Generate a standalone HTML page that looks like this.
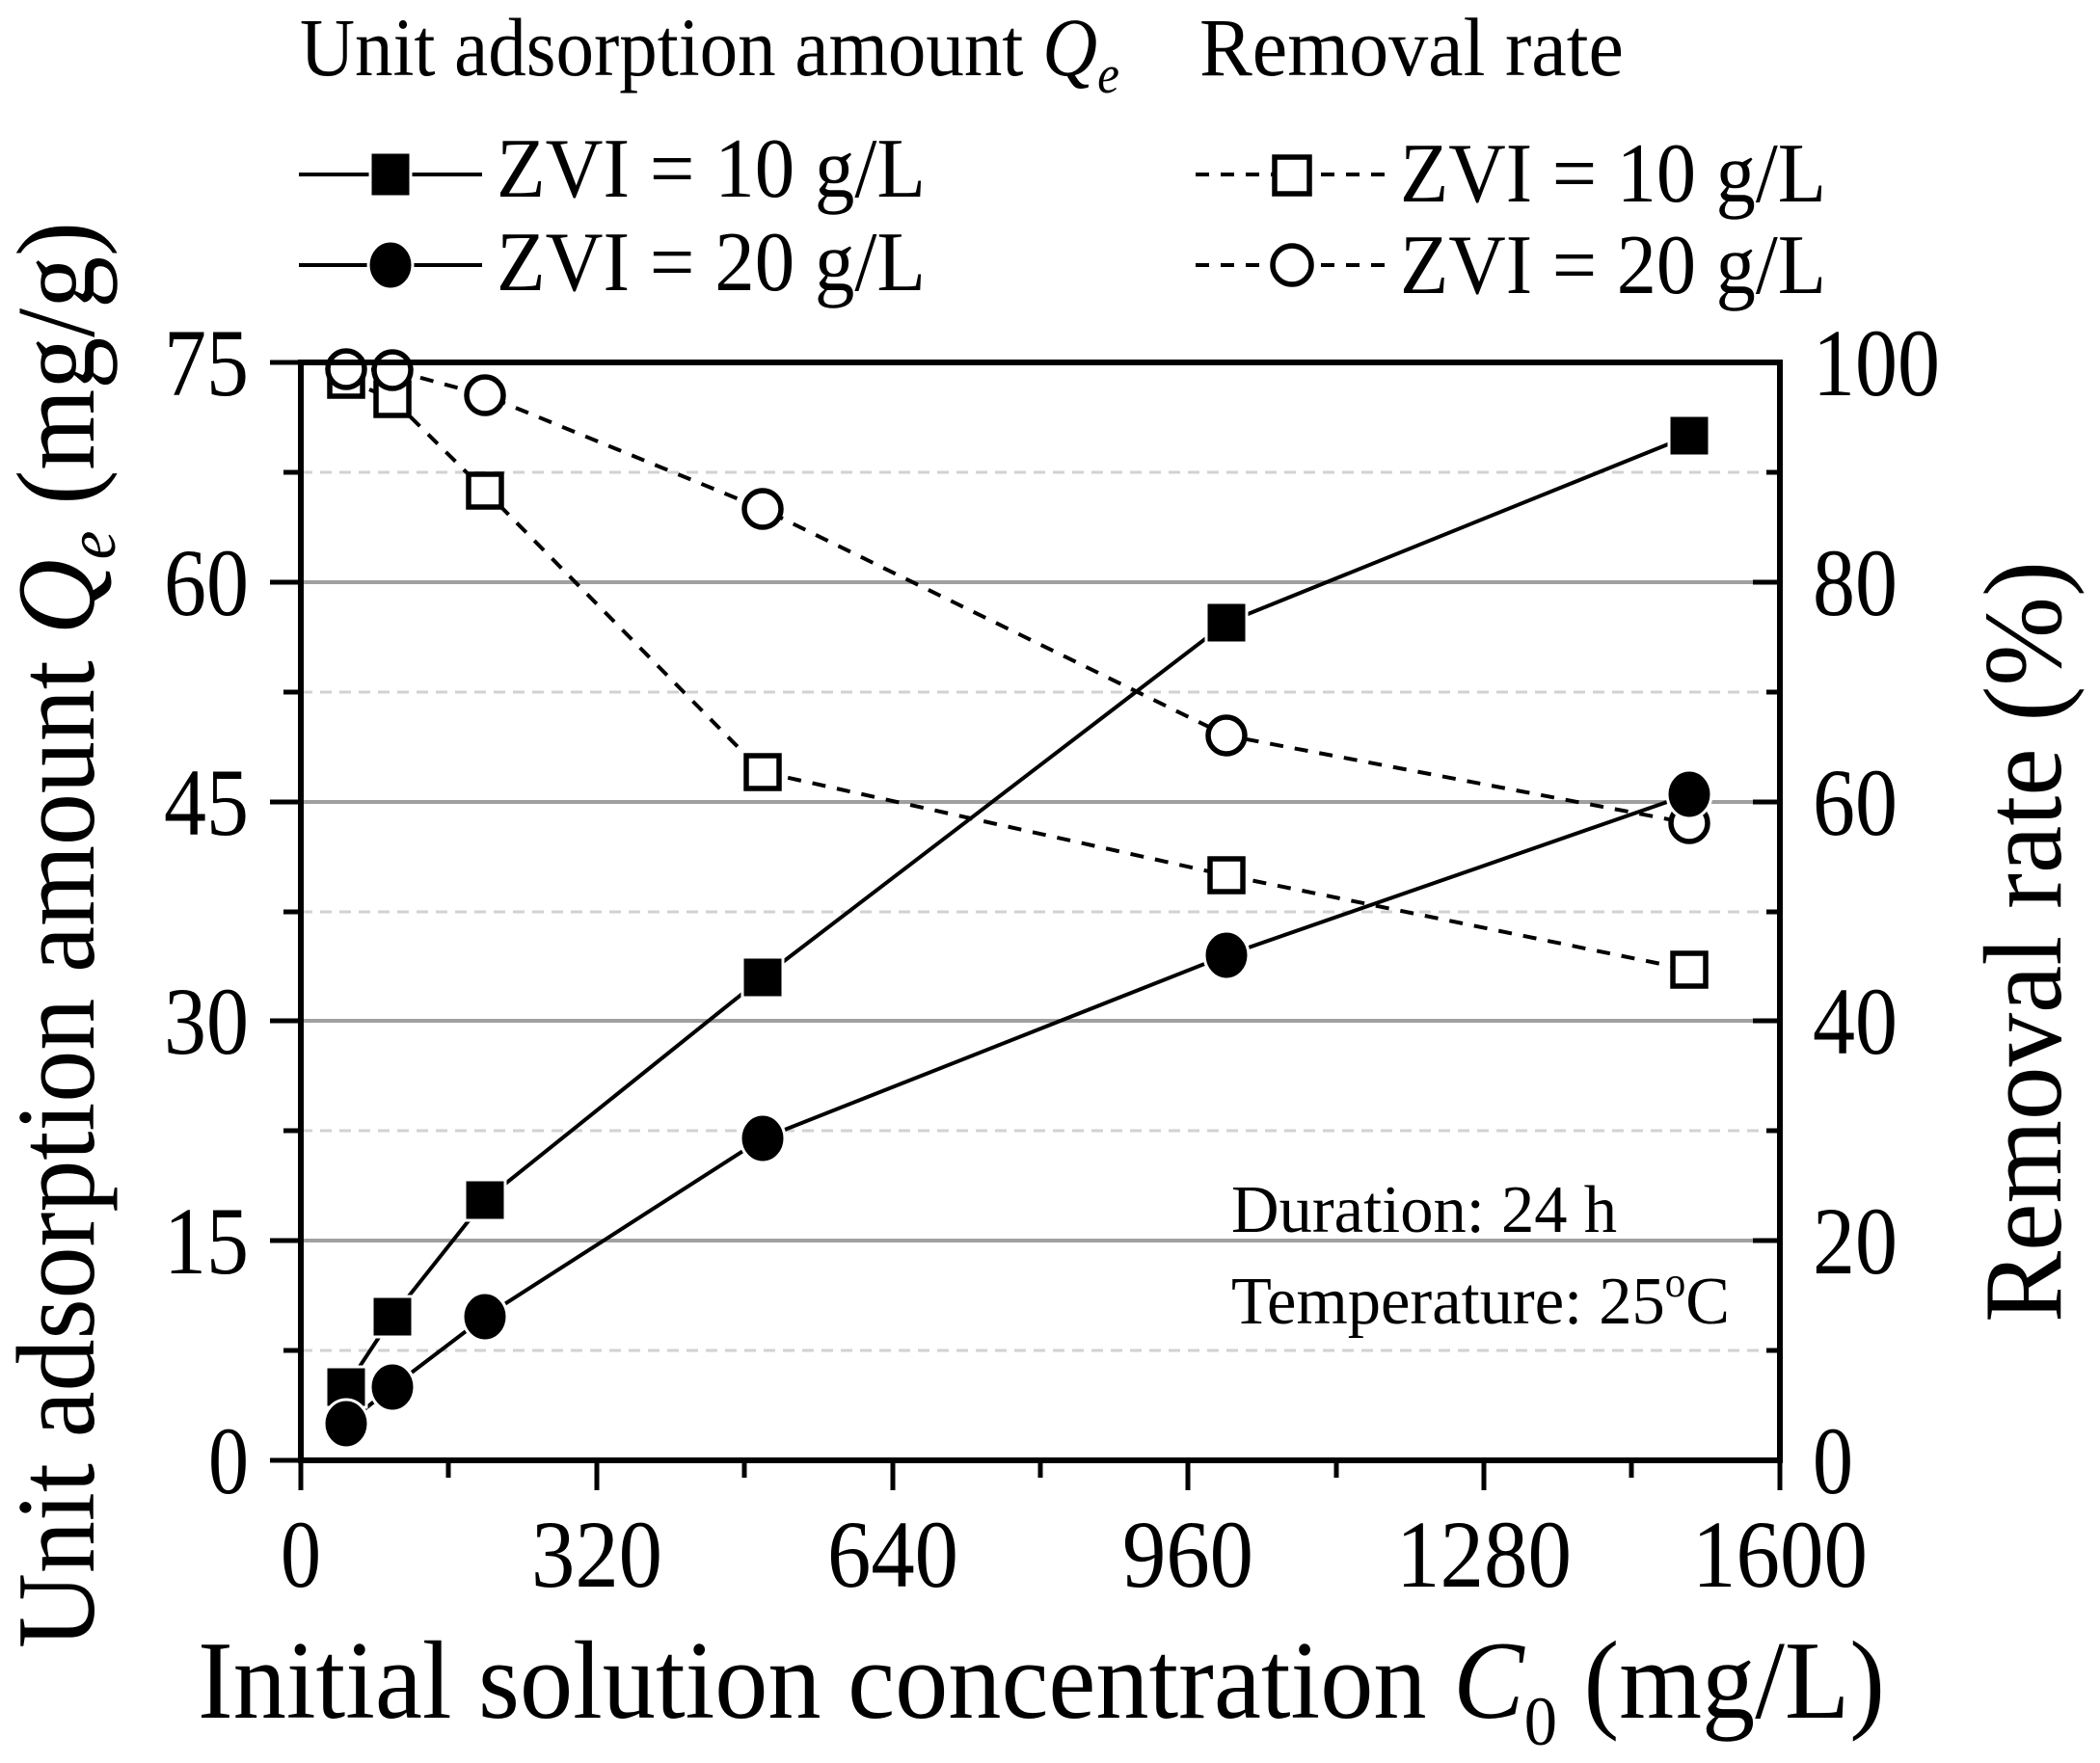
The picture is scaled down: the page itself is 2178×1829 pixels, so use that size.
<!DOCTYPE html>
<html><head><meta charset="utf-8"><style>
html,body{margin:0;padding:0;background:#fff;}
svg{display:block;}
text{font-family:"Liberation Serif",serif;fill:#000;}
</style></head><body>
<svg width="2178" height="1829" viewBox="0 0 2178 1829" xmlns="http://www.w3.org/2000/svg">
<rect width="2178" height="1829" fill="#fff"/>
<g stroke="#a0a0a0" stroke-width="4">
<line x1="312" y1="1287" x2="1846" y2="1287"/>
<line x1="312" y1="1059" x2="1846" y2="1059"/>
<line x1="312" y1="832" x2="1846" y2="832"/>
<line x1="312" y1="604" x2="1846" y2="604"/>
</g>
<g stroke="#d2d2d2" stroke-width="3" stroke-dasharray="12 8">
<line x1="312" y1="1401" x2="1846" y2="1401"/>
<line x1="312" y1="1173" x2="1846" y2="1173"/>
<line x1="312" y1="946" x2="1846" y2="946"/>
<line x1="312" y1="718" x2="1846" y2="718"/>
<line x1="312" y1="490" x2="1846" y2="490"/>
</g>
<g fill="none" stroke="#000" stroke-width="4">
<polyline points="359,1439 407,1366 503,1245 791,1014 1272,646 1752,452"/>
<polyline points="359,1477 407,1439 503,1366 791,1181 1272,991 1752,824"/>
<polyline stroke-dasharray="14 12" points="359,394 407,414 503,509 791,801 1272,908 1752,1006"/>
<polyline stroke-dasharray="14 12" points="359,383 407,384 503,410 791,528 1272,763 1752,854"/>
</g>
<g fill="#fff" stroke="#000" stroke-width="5.5">
<rect x="342" y="377" width="34" height="34"/>
<rect x="390" y="397" width="34" height="34"/>
<rect x="486" y="492" width="34" height="34"/>
<rect x="774" y="784" width="34" height="34"/>
<rect x="1255" y="891" width="34" height="34"/>
<rect x="1735" y="989" width="34" height="34"/>
<circle cx="359" cy="383" r="19"/>
<circle cx="407" cy="384" r="19"/>
<circle cx="503" cy="410" r="19"/>
<circle cx="791" cy="528" r="19"/>
<circle cx="1272" cy="763" r="19"/>
<circle cx="1752" cy="854" r="19"/>
</g>
<g fill="#000" stroke="#fff" stroke-width="3">
<rect x="338" y="1418" width="42" height="42"/>
<rect x="386" y="1345" width="42" height="42"/>
<rect x="482" y="1224" width="42" height="42"/>
<rect x="770" y="993" width="42" height="42"/>
<rect x="1251" y="625" width="42" height="42"/>
<rect x="1731" y="431" width="42" height="42"/>
<ellipse cx="359" cy="1477" rx="23" ry="25"/>
<ellipse cx="407" cy="1439" rx="23" ry="25"/>
<ellipse cx="503" cy="1366" rx="23" ry="25"/>
<ellipse cx="791" cy="1181" rx="23" ry="25"/>
<ellipse cx="1272" cy="991" rx="23" ry="25"/>
<ellipse cx="1752" cy="824" rx="23" ry="25"/>
</g>
<rect x="312" y="376" width="1534" height="1139" fill="none" stroke="#000" stroke-width="6"/>
<g stroke="#000" stroke-width="5">
<line x1="280" y1="1515" x2="312" y2="1515"/><line x1="280" y1="1287" x2="312" y2="1287"/><line x1="280" y1="1059" x2="312" y2="1059"/><line x1="280" y1="832" x2="312" y2="832"/><line x1="280" y1="604" x2="312" y2="604"/><line x1="280" y1="376" x2="312" y2="376"/>
<line x1="294" y1="1401" x2="312" y2="1401"/><line x1="294" y1="1173" x2="312" y2="1173"/><line x1="294" y1="946" x2="312" y2="946"/><line x1="294" y1="718" x2="312" y2="718"/><line x1="294" y1="490" x2="312" y2="490"/>
<line x1="1818" y1="1287" x2="1846" y2="1287"/><line x1="1818" y1="1059" x2="1846" y2="1059"/><line x1="1818" y1="832" x2="1846" y2="832"/><line x1="1818" y1="604" x2="1846" y2="604"/>
<line x1="1832" y1="1401" x2="1846" y2="1401"/><line x1="1832" y1="1173" x2="1846" y2="1173"/><line x1="1832" y1="946" x2="1846" y2="946"/><line x1="1832" y1="718" x2="1846" y2="718"/><line x1="1832" y1="490" x2="1846" y2="490"/>
<line x1="312" y1="1515" x2="312" y2="1546"/><line x1="619" y1="1515" x2="619" y2="1546"/><line x1="926" y1="1515" x2="926" y2="1546"/><line x1="1232" y1="1515" x2="1232" y2="1546"/><line x1="1539" y1="1515" x2="1539" y2="1546"/><line x1="1846" y1="1515" x2="1846" y2="1546"/>
<line x1="465" y1="1515" x2="465" y2="1533"/><line x1="772" y1="1515" x2="772" y2="1533"/><line x1="1079" y1="1515" x2="1079" y2="1533"/><line x1="1386" y1="1515" x2="1386" y2="1533"/><line x1="1692" y1="1515" x2="1692" y2="1533"/>
</g>
<g font-size="100" text-anchor="end">
<text x="258" y="1549" textLength="42" lengthAdjust="spacingAndGlyphs">0</text>
<text x="258" y="1321" textLength="88" lengthAdjust="spacingAndGlyphs">15</text>
<text x="258" y="1093" textLength="88" lengthAdjust="spacingAndGlyphs">30</text>
<text x="258" y="866" textLength="88" lengthAdjust="spacingAndGlyphs">45</text>
<text x="258" y="638" textLength="88" lengthAdjust="spacingAndGlyphs">60</text>
<text x="258" y="410" textLength="88" lengthAdjust="spacingAndGlyphs">75</text>
</g>
<g font-size="100">
<text x="1880" y="1549" textLength="42" lengthAdjust="spacingAndGlyphs">0</text>
<text x="1880" y="1321" textLength="88" lengthAdjust="spacingAndGlyphs">20</text>
<text x="1880" y="1093" textLength="88" lengthAdjust="spacingAndGlyphs">40</text>
<text x="1880" y="866" textLength="88" lengthAdjust="spacingAndGlyphs">60</text>
<text x="1880" y="638" textLength="88" lengthAdjust="spacingAndGlyphs">80</text>
<text x="1880" y="410" textLength="132" lengthAdjust="spacingAndGlyphs">100</text>
</g>
<g font-size="100" text-anchor="middle">
<text x="312" y="1646" textLength="42" lengthAdjust="spacingAndGlyphs">0</text>
<text x="619" y="1646" textLength="136" lengthAdjust="spacingAndGlyphs">320</text>
<text x="926" y="1646" textLength="136" lengthAdjust="spacingAndGlyphs">640</text>
<text x="1232" y="1646" textLength="136" lengthAdjust="spacingAndGlyphs">960</text>
<text x="1539" y="1646" textLength="182" lengthAdjust="spacingAndGlyphs">1280</text>
<text x="1846" y="1646" textLength="182" lengthAdjust="spacingAndGlyphs">1600</text>
</g>
<text x="205" y="1782" font-size="116" textLength="1750" lengthAdjust="spacingAndGlyphs">Initial solution concentration <tspan font-style="italic">C</tspan><tspan font-size="72" dy="28">0</tspan><tspan dy="-28"> (mg/L)</tspan></text>
<text transform="translate(97,1710) rotate(-90)" font-size="116" textLength="1480" lengthAdjust="spacingAndGlyphs">Unit adsorption amount <tspan font-style="italic">Q</tspan><tspan font-style="italic" font-size="72" dy="22">e</tspan><tspan dy="-22"> (mg/g)</tspan></text>
<text transform="translate(2137,1372) rotate(-90)" font-size="116" textLength="790" lengthAdjust="spacingAndGlyphs">Removal rate (%)</text>
<text x="311" y="78" font-size="86" textLength="850" lengthAdjust="spacingAndGlyphs">Unit adsorption amount <tspan font-style="italic">Q</tspan><tspan font-style="italic" font-size="56" dy="18">e</tspan></text>
<text x="1244" y="78" font-size="86" textLength="440" lengthAdjust="spacingAndGlyphs">Removal rate</text>
<g stroke="#000" stroke-width="4">
<line x1="310" y1="181" x2="500" y2="181"/>
<line x1="310" y1="275" x2="500" y2="275"/>
<line x1="1240" y1="181" x2="1440" y2="181" stroke-dasharray="14 12"/>
<line x1="1240" y1="275" x2="1440" y2="275" stroke-dasharray="14 12"/>
</g>
<rect x="384" y="158" width="42" height="46" fill="#000" stroke="#fff" stroke-width="3"/>
<ellipse cx="405" cy="275" rx="23" ry="25" fill="#000" stroke="#fff" stroke-width="3"/>
<rect x="1322" y="163" width="36" height="38" fill="#fff" stroke="#000" stroke-width="5.5"/>
<circle cx="1340" cy="275" r="20" fill="#fff" stroke="#000" stroke-width="5.5"/>
<text x="515" y="204" font-size="88" textLength="445" lengthAdjust="spacingAndGlyphs">ZVI = 10 g/L</text>
<text x="515" y="301" font-size="88" textLength="445" lengthAdjust="spacingAndGlyphs">ZVI = 20 g/L</text>
<text x="1452" y="209" font-size="88" textLength="442" lengthAdjust="spacingAndGlyphs">ZVI = 10 g/L</text>
<text x="1452" y="304" font-size="88" textLength="442" lengthAdjust="spacingAndGlyphs">ZVI = 20 g/L</text>
<text x="1277" y="1278" font-size="70" textLength="400" lengthAdjust="spacingAndGlyphs">Duration: 24 h</text>
<text x="1277" y="1373" font-size="70" textLength="517" lengthAdjust="spacingAndGlyphs">Temperature: 25<tspan font-size="44" dy="-28">o</tspan><tspan dy="28">C</tspan></text>
</svg>
</body></html>
